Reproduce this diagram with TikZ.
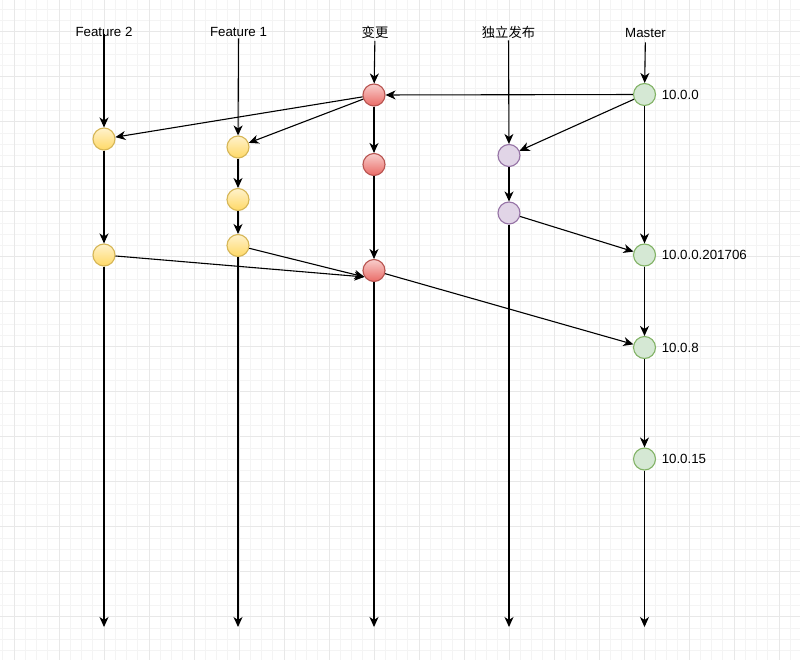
\documentclass[tikz,border=0pt]{standalone}
\usepackage{fontspec}
\setmainfont{Liberation Sans}
\newfontfamily\cjk{Noto Sans CJK SC}
\usetikzlibrary{arrows.meta}
\definecolor{gridminor}{HTML}{F4F4F4}
\definecolor{gridmajor}{HTML}{E8E8E8}
\definecolor{yfillA}{HTML}{FFF2CC}
\definecolor{yfillB}{HTML}{FFD966}
\definecolor{ystroke}{HTML}{D6B656}
\definecolor{rfillA}{HTML}{F8CECC}
\definecolor{rfillB}{HTML}{EA6B66}
\definecolor{rstroke}{HTML}{B85450}
\definecolor{gfill}{HTML}{D5E8D4}
\definecolor{gstroke}{HTML}{82B366}
\definecolor{pfill}{HTML}{E1D5E7}
\definecolor{pstroke}{HTML}{9673A6}
\tikzset{
  commit/.style={circle, minimum size=22pt, inner sep=0pt, line width=1.1pt},
  ycommit/.style={commit, draw=ystroke, top color=yfillA, bottom color=yfillB},
  rcommit/.style={commit, draw=rstroke, top color=rfillA, bottom color=rfillB},
  gcommit/.style={commit, draw=gstroke, fill=gfill},
  pcommit/.style={commit, draw=pstroke, fill=pfill},
  branchlabel/.style={font=\fontsize{13.3}{16}\selectfont, inner sep=2pt},
  vlabel/.style={font=\fontsize{13.3}{16}\selectfont, inner sep=0pt, anchor=west, xshift=5.5pt},
  conn/.style={line width=1.1pt, black, -{Stealth[length=10pt,width=9pt,inset=3pt]}},
}
\begin{document}
\begin{tikzpicture}[x=1pt,y=-1pt]
\useasboundingbox (0,0) rectangle (800,660);
\fill[white] (0,0) rectangle (800,660);
% grid
\foreach \x in {2.75,14,...,800} \draw[gridminor, line width=0.8pt] (\x,0) -- (\x,660);
\foreach \y in {9.2,20.45,...,660} \draw[gridminor, line width=0.8pt] (0,\y) -- (800,\y);
\foreach \x in {14,59,...,800} \draw[gridmajor, line width=0.9pt] (\x,0) -- (\x,660);
\foreach \y in {31.7,76.7,...,660} \draw[gridmajor, line width=0.9pt] (0,\y) -- (800,\y);

% branch labels
\node[branchlabel] (lf1) at (238.5,31.5) {Feature 1};
\node[branchlabel] (lc) at (375,32.5) {\cjk 变更};
\node[branchlabel] (lp) at (508.5,32) {\cjk 独立发布};
\node[branchlabel] (lm) at (645.5,32.5) {Master};

% commits
\node[rcommit] (c1) at (374,95) {};
\node[rcommit] (c2) at (374,164.5) {};
\node[rcommit] (c3) at (374,270.5) {};
\node[ycommit] (f2a) at (104,139) {};
\node[ycommit] (f2b) at (104,255) {};
\node[ycommit] (f1a) at (238,147) {};
\node[ycommit] (f1b) at (238,199.5) {};
\node[ycommit] (f1c) at (238,245.5) {};
\node[pcommit] (p1) at (509,155.5) {};
\node[pcommit] (p2) at (509,213) {};
\node[gcommit] (m1) at (644.5,94.5) {};
\node[gcommit] (m2) at (644.5,255) {};
\node[gcommit] (m3) at (644.5,347.5) {};
\node[gcommit] (m4) at (644.5,459) {};

% version labels
\node[vlabel] (v1) at (m1.east) {10.0.0};
\node[vlabel] (v2) at (m2.east) {10.0.0.201706};
\node[vlabel] (v3) at (m3.east) {10.0.8};
\node[vlabel] (v4) at (m4.east) {10.0.15};

% end points
\coordinate (ef2) at (104,627);
\coordinate (ef1) at (238,627);
\coordinate (ec) at (374,627);
\coordinate (ep) at (509,627);
\coordinate (em) at (644.5,627);
\coordinate (f2top) at (104,34);
\coordinate (c3in) at (c3.214);

% Feature 2
\draw[conn] (f2top) -- (f2a);
\draw[conn] (f2a) -- (f2b);
\draw[conn] (f2b) -- (ef2);
% Feature 1
\draw[conn] (lf1) -- (f1a);
\draw[conn] (f1a) -- (f1b);
\draw[conn] (f1b) -- (f1c);
\draw[conn] (f1c) -- (ef1);
% change branch
\draw[conn] (lc) -- (c1);
\draw[conn] (c1) -- (c2);
\draw[conn] (c2) -- (c3);
\draw[conn] (c3) -- (ec);
% independent release
\draw[conn] (lp) -- (p1);
\draw[conn] (p1) -- (p2);
\draw[conn] (p2) -- (ep);
% master
\draw[conn, shorten <=3pt] (lm) -- (m1);
\draw[conn] (m1) -- (m2);
\draw[conn] (m2) -- (m3);
\draw[conn] (m3) -- (m4);
\draw[conn] (m4) -- (em);
% cross connections
\draw[conn] (m1) -- (c1);
\draw[conn] (c1) -- (f2a);
\draw[conn] (c1) -- (f1a);
\draw[conn] (m1) -- (p1);
\draw[conn] (p2) -- (m2);
\draw[conn] (f2b) -- (c3in);
\draw[conn] (f1c) -- (c3in);
\draw[conn] (c3) -- (m3);

% Feature 2 label on top of its line
\node[branchlabel] (lf2) at (104,31.5) {Feature 2};
\end{tikzpicture}
\end{document}
